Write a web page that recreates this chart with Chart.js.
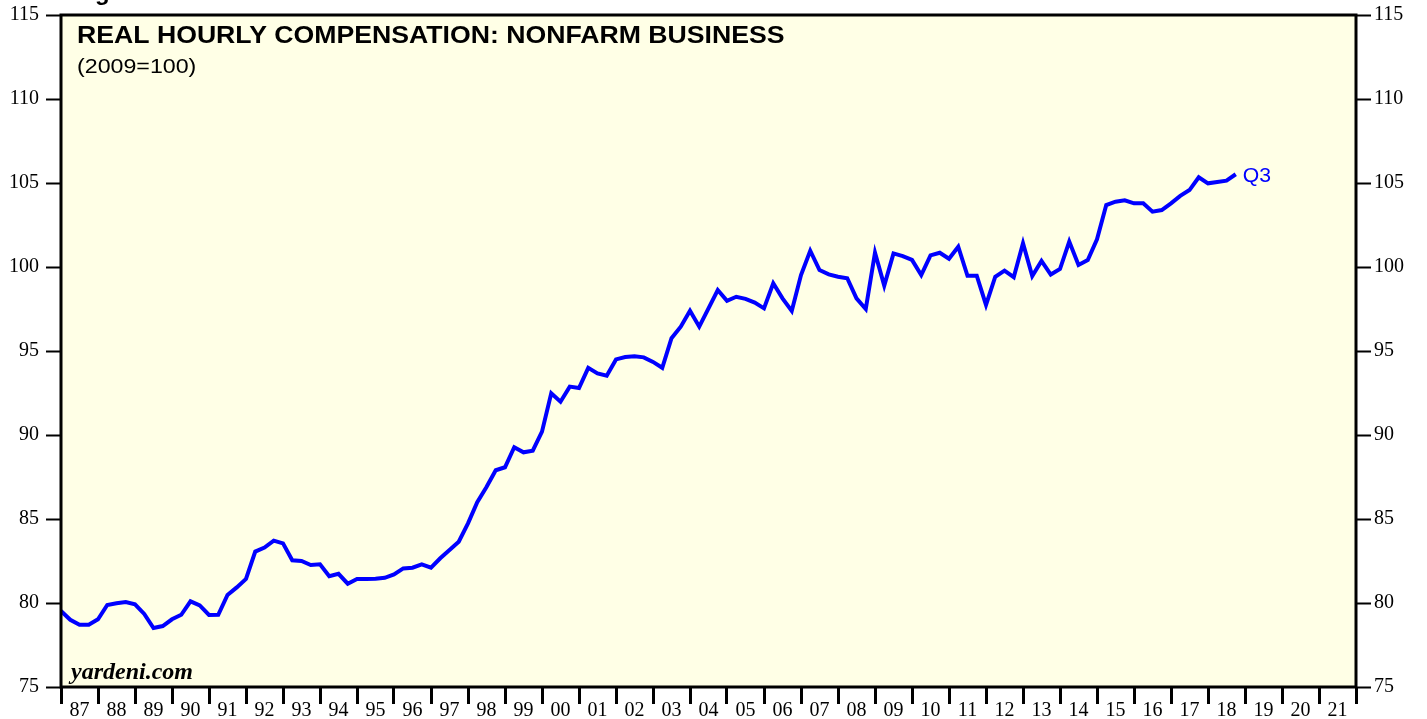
<!DOCTYPE html>
<html>
<head>
<meta charset="utf-8">
<script src="https://cdn.jsdelivr.net/npm/chart.js@4.4.1/dist/chart.umd.min.js"></script>
<style>
  html, body { margin: 0; padding: 0; background: #ffffff; }
  #wrap { width: 1427px; height: 719px; position: relative; }
</style>
</head>
<body>
<div id="wrap"><canvas id="c" width="1427" height="719"></canvas></div>
<script>
// ---- Data (quarterly, first point at start of 1987, last = 2018 Q3) ----
const startYear = 1987;
const quarterStep = 0.25;
const compensation = [
  79.52, 79.0, 78.7, 78.7, 79.03, 79.88, 79.98, 80.06,
  79.92, 79.35, 78.51, 78.63, 79.03, 79.3, 80.1, 79.86,
  79.29, 79.3, 80.48, 80.93, 81.43, 83.06, 83.3, 83.71,
  83.55, 82.54, 82.5, 82.26, 82.3, 81.6, 81.74, 81.15,
  81.43, 81.43, 81.45, 81.5, 81.7, 82.06, 82.1, 82.3,
  82.1, 82.66, 83.15, 83.65, 84.74, 86.0, 86.9, 87.9,
  88.08, 89.27, 88.97, 89.07, 90.2, 92.48, 91.98, 92.88,
  92.8, 94.0, 93.67, 93.53, 94.5, 94.64, 94.68, 94.62,
  94.35, 94.0, 95.76, 96.45, 97.4, 96.45, 97.54, 98.63,
  97.99, 98.23, 98.1, 97.88, 97.54, 99.03, 98.13, 97.38,
  99.52, 100.97, 99.82, 99.56, 99.42, 99.33, 98.13, 97.5,
  100.85, 98.89, 100.81, 100.65, 100.42, 99.52, 100.69, 100.85,
  100.49, 101.21, 99.48, 99.48, 97.74, 99.42, 99.78, 99.39,
  101.41, 99.46, 100.36, 99.55, 99.88, 101.51, 100.12, 100.42,
  101.65, 103.69, 103.89, 103.97, 103.79, 103.79, 103.29, 103.39,
  103.79, 104.23, 104.58, 105.34, 104.98, 105.06, 105.14, 105.52
];
const yearLabels = ['87','88','89','90','91','92','93','94','95','96','97','98','99',
  '00','01','02','03','04','05','06','07','08','09','10','11','12','13','14','15',
  '16','17','18','19','20','21'];
const yTicks = [75, 80, 85, 90, 95, 100, 105, 110, 115];
const titleText = 'REAL HOURLY COMPENSATION: NONFARM BUSINESS';
const subtitleText = '(2009=100)';
const lastLabel = 'Q3';
const sourceText = 'yardeni.com';
const clippedHeading = 'g';

const points = compensation.map((v, i) => ({ x: startYear + i * quarterStep, y: v }));
const endYear = startYear + yearLabels.length;

function stretchedText(ctx, text, x, y, sx) {
  ctx.save();
  ctx.translate(x, y);
  ctx.scale(sx, 1);
  ctx.fillText(text, 0, 0);
  ctx.restore();
}

const bgPlugin = {
  id: 'bgPlugin',
  beforeDraw(chart) {
    const { ctx, chartArea: a } = chart;
    ctx.save();
    ctx.fillStyle = '#FFFFE6';
    ctx.fillRect(a.left, a.top, a.right - a.left, a.bottom - a.top);
    ctx.restore();
  },
  afterDraw(chart) {
    const { ctx, chartArea: a } = chart;
    ctx.save();
    ctx.strokeStyle = '#000';
    ctx.lineWidth = 3;
    ctx.strokeRect(a.left, a.top, a.right - a.left, a.bottom - a.top);
    // title texts
    ctx.fillStyle = '#000';
    ctx.textBaseline = 'alphabetic';
    ctx.textAlign = 'left';
    ctx.font = 'bold 24px "Liberation Sans", Arial, sans-serif';
    stretchedText(ctx, clippedHeading, 95, 0, 1.0);
    stretchedText(ctx, titleText, a.left + 16, a.top + 28, 1.11);
    ctx.font = '20px "Liberation Sans", Arial, sans-serif';
    stretchedText(ctx, subtitleText, a.left + 16, a.top + 58, 1.16);
    ctx.font = 'italic bold 24px "Liberation Serif", "Times New Roman", serif';
    ctx.fillText(sourceText, a.left + 10, a.bottom - 8);
    // last point label
    const meta = chart.getDatasetMeta(0);
    const last = meta.data[meta.data.length - 1];
    ctx.fillStyle = '#0000FF';
    ctx.font = '20px "Liberation Sans", Arial, sans-serif';
    ctx.textBaseline = 'alphabetic';
    stretchedText(ctx, lastLabel, last.x + 7, last.y + 8, 1.06);
    ctx.restore();
  }
};

const yAxisCommon = {
  type: 'linear',
  min: 75, max: 115,
  afterBuildTicks(scale) { scale.ticks = yTicks.map(v => ({ value: v })); },
  grid: { drawOnChartArea: false, drawTicks: true, tickLength: 15, tickWidth: 2, tickColor: '#000' },
  border: { display: false },
  ticks: { color: '#000', font: { family: '"Liberation Serif", "Times New Roman", serif', size: 20 }, padding: 7 }
};

new Chart(document.getElementById('c'), {
  type: 'line',
  data: {
    datasets: [{
      data: points,
      borderColor: '#0000FF',
      borderWidth: 4,
      pointRadius: 0,
      tension: 0,
      fill: false,
      yAxisID: 'y'
    }]
  },
  options: {
    responsive: false,
    animation: false,
    layout: { padding: { top: 15, left: 0, right: 0, bottom: 0 } },
    plugins: { legend: { display: false }, tooltip: { enabled: false }, title: { display: false } },
    scales: {
      x: {
        type: 'linear',
        position: 'bottom',
        min: startYear, max: endYear,
        afterBuildTicks(scale) {
          const t = [];
          for (let y = startYear; y <= endYear; y++) {
            t.push({ value: y });
            if (y < endYear) t.push({ value: y + 0.5 });
          }
          scale.ticks = t;
        },
        afterFit(scale) { scale.height = 32; scale.paddingLeft = 0; scale.paddingRight = 0; },
        grid: {
          drawOnChartArea: false, drawTicks: true, tickLength: 17, tickWidth: 3,
          tickColor: (ctx) => (ctx.tick && Number.isInteger(ctx.tick.value)) ? '#000' : 'rgba(0,0,0,0)'
        },
        border: { display: false },
        ticks: {
          autoSkip: false, maxRotation: 0, minRotation: 0,
          color: '#000',
          font: { family: '"Liberation Serif", "Times New Roman", serif', size: 20 },
          padding: -5,
          callback(value) {
            if (Number.isInteger(value)) return '';
            return yearLabels[Math.floor(value) - startYear];
          }
        }
      },
      y: Object.assign({}, yAxisCommon, {
        position: 'left',
        afterFit(scale) { scale.width = 61; scale.paddingTop = 0; scale.paddingBottom = 0; }
      }),
      y2: Object.assign({}, yAxisCommon, {
        position: 'right',
        afterFit(scale) { scale.width = 71; scale.paddingTop = 0; scale.paddingBottom = 0; },
        ticks: Object.assign({}, yAxisCommon.ticks, { padding: 3 })
      })
    }
  },
  plugins: [bgPlugin]
});
</script>
</body>
</html>
